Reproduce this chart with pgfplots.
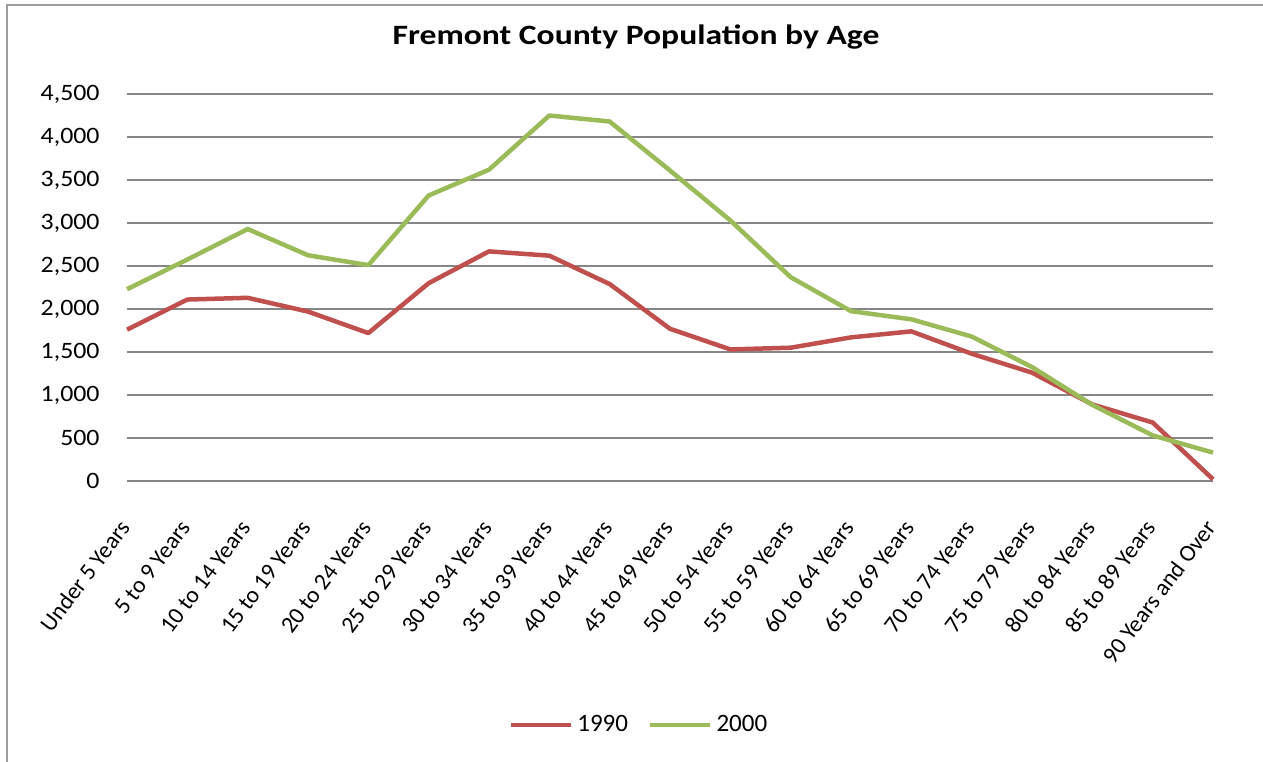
\documentclass[border=0pt]{standalone}
\usepackage{fontspec}
\setmainfont{Carlito}
\usepackage{pgfplots}
\pgfplotsset{compat=1.18}
\definecolor{red90}{HTML}{C0504D}
\definecolor{green00}{HTML}{9BBB59}
\definecolor{gridgray}{HTML}{868686}
\begin{document}
\begin{tikzpicture}
\useasboundingbox (0,0) rectangle (631.5pt,380.5pt);
\draw[gridgray!80, line width=1pt] (3.5pt,-5pt) -- (3.5pt,378pt) -- (640pt,378pt);
\node[anchor=base, xscale=1.2, font=\fontsize{14}{16}\selectfont\bfseries] at (318pt,358pt) {Fremont County Population by Age};
\begin{axis}[
  at={(63.5pt,140pt)}, anchor=south west,
  scale only axis, width=543pt, height=193.5pt,
  xmin=0, xmax=18, ymin=0, ymax=4500,
  xtick={0,...,18},
  xticklabels={Under 5 Years,5 to 9 Years,10 to 14 Years,15 to 19 Years,20 to 24 Years,25 to 29 Years,30 to 34 Years,35 to 39 Years,40 to 44 Years,45 to 49 Years,50 to 54 Years,55 to 59 Years,60 to 64 Years,65 to 69 Years,70 to 74 Years,75 to 79 Years,80 to 84 Years,85 to 89 Years,90 Years and Over},
  ytick={0,500,...,4500},
  ymajorgrids, grid style={gridgray, line width=0.75pt},
  axis line style={draw=none},
  major tick length=0pt,
  tick label style={font=\fontsize{11.75}{14}\selectfont},
  /pgf/number format/assume math mode=true,
  /pgf/number format/1000 sep={,},
  scaled y ticks=false,
  yticklabel style={anchor=east, inner sep=0pt, xshift=-13.5pt, xscale=1.1},
  xticklabel style={yshift=-23.5pt, xshift=2pt, rotate=53, anchor=base east, inner sep=0pt},
  clip=false,
  legend style={at={(0.4724,-0.6305)}, anchor=center, draw=none, fill=none,
    legend columns=2, font=\fontsize{12.5}{14}\selectfont,
    /tikz/every even column/.append style={column sep=8pt}},
  legend image code/.code={\draw[#1] (0pt,0pt) -- (30pt,0pt);},
  every axis plot/.append style={line width=2.25pt, line join=round},
]
\addplot[red90] coordinates {
(0,1760) (1,2110) (2,2130) (3,1970) (4,1720) (5,2300) (6,2670) (7,2620) (8,2290) (9,1770)
(10,1530) (11,1550) (12,1670) (13,1740) (14,1480) (15,1260) (16,890) (17,680) (18,20)};
\addlegendentry{1990}
\addplot[green00] coordinates {
(0,2230) (1,2575) (2,2930) (3,2625) (4,2510) (5,3320) (6,3620) (7,4250) (8,4180) (9,3610)
(10,3030) (11,2370) (12,1975) (13,1880) (14,1680) (15,1325) (16,885) (17,530) (18,330)};
\addlegendentry{2000}
\end{axis}
\end{tikzpicture}
\end{document}
